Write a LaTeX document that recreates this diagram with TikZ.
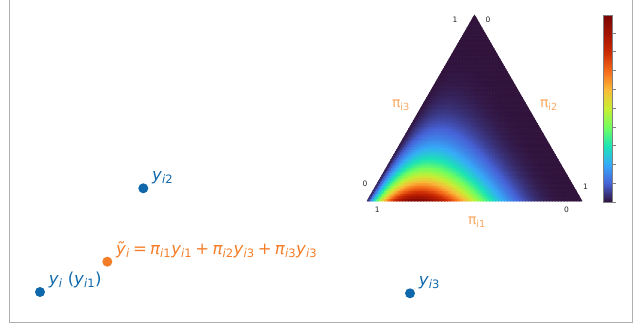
\documentclass[tikz,border=0pt]{standalone}
\usepackage{fontspec}
\setmainfont{DejaVu Sans}
\usetikzlibrary{positioning, calc}
\definecolor{ptblue}{RGB}{14,104,171}
\definecolor{ptorange}{RGB}{245,125,40}
\definecolor{axorange}{RGB}{250,168,98}
\definecolor{framegray}{RGB}{175,175,175}
% turbo colour map, 11 stops
\definecolor{tb0}{RGB}{48,18,59}
\definecolor{tb1}{RGB}{70,98,216}
\definecolor{tb2}{RGB}{54,170,249}
\definecolor{tb3}{RGB}{26,228,182}
\definecolor{tb4}{RGB}{114,254,94}
\definecolor{tb5}{RGB}{200,239,52}
\definecolor{tb6}{RGB}{250,186,57}
\definecolor{tb7}{RGB}{246,107,25}
\definecolor{tb8}{RGB}{203,42,4}
\definecolor{tb9}{RGB}{163,19,1}
\definecolor{tb10}{RGB}{122,4,3}
\pgfdeclareverticalshading{turbo}{100bp}{color(0bp)=(tb0); color(25bp)=(tb0);
  color(30bp)=(tb1); color(35bp)=(tb2); color(40bp)=(tb3); color(45bp)=(tb4);
  color(50bp)=(tb5); color(55bp)=(tb6); color(60bp)=(tb7); color(65bp)=(tb8);
  color(70bp)=(tb9); color(75bp)=(tb10); color(100bp)=(tb10)}
\newcommand{\setturbo}[1]{%
  \pgfmathsetmacro\tbpos{10*min(max(#1,0),0.9999)}%
  \pgfmathtruncatemacro\tblo{floor(\tbpos)}%
  \pgfmathtruncatemacro\tbhi{\tblo+1}%
  \pgfmathtruncatemacro\tbmix{round(100*(\tbhi-\tbpos))}%
  \colorlet{tcur}{tb\tblo!\tbmix!tb\tbhi}}
% #1 = pi_i2, #2 = pi_i3
\newcommand{\density}[2]{%
  \pgfmathsetmacro\ptwo{#1}%
  \pgfmathsetmacro\pone{1-\ptwo-(#2)}%
  \pgfmathsetmacro\dval{exp(max(-9,3.6*ln(\pone/0.766)+1.1*ln(\ptwo/0.234)))}%
  \setturbo{\dval}}
\newcommand{\N}{72}
\newcommand{\Nm}{71}
\newcommand{\opsp}{\hspace{3.2pt}}

\begin{document}
\begin{tikzpicture}[
    x=1pt, y=-1pt,
    dot/.style={circle, inner sep=0pt, minimum size=10pt},
    lbl/.style={inner sep=0pt, font=\fontsize{16.5}{19}\selectfont},
    axlbl/.style={text=axorange, inner sep=0pt, font=\fontsize{14}{16}\selectfont},
    num/.style={text=black!85, inner sep=0pt, font=\fontsize{7.5}{9}\selectfont},
    cell/.style={fill=tcur, draw=tcur, line width=0.5pt}
  ]
  \useasboundingbox (0,0) rectangle (639,330);
  % frame
  \draw[framegray, line width=1pt] (9.5,0) -- (9.5,322) -- (632,322) -- (632,0);

  % points
  \node[dot, fill=ptblue] (yone) at (40,292) {};
  \node[dot, fill=ptblue] (ytwo) at (143.3,188.3) {};
  \node[dot, fill=ptblue] (ythree) at (410,293.3) {};
  \node[dot, fill=ptorange] (ytil) at (107.3,261.7) {};
  \node[lbl, text=ptblue, above right=0pt and 5pt of yone] (yonelab)
    {\textit{y}\textsubscript{\textit{i}} (\textit{y}\textsubscript{\textit{i}1})};
  \node[lbl, text=ptblue, above right=0pt and 5pt of ytwo] (ytwolab)
    {\textit{y}\textsubscript{\textit{i}2}};
  \node[lbl, text=ptblue, above right=0pt and 5pt of ythree] (ythreelab)
    {\textit{y}\textsubscript{\textit{i}3}};
  \node[lbl, text=ptorange, above right=0pt and 5pt of ytil] (ytillab)
    {\textit{ỹ}\textsubscript{\textit{i}}\opsp=\opsp\textit{π}\textsubscript{\textit{i}1}\textit{y}\textsubscript{\textit{i}1}\opsp+\opsp\textit{π}\textsubscript{\textit{i}2}\textit{y}\textsubscript{\textit{i}3}\opsp+\opsp\textit{π}\textsubscript{\textit{i}3}\textit{y}\textsubscript{\textit{i}3}};

  % ternary density
  \begin{scope}[shift={(367,201)}, x={(215pt/\N,0pt)}, y={(107.5pt/\N,186pt/\N)}]
    \foreach \rowb in {0,...,\Nm} {
      \pgfmathtruncatemacro\amax{\Nm-\rowb}
      \foreach \cola in {0,...,\amax} {
        \density{(\cola+1/3)/\N}{(\rowb+1/3)/\N}
        \path[cell] (\cola,\rowb) -- ++(1,0) -- ++(-1,1) -- cycle;
        \ifnum\cola<\amax
          \density{(\cola+2/3)/\N}{(\rowb+2/3)/\N}
          \path[cell] (\cola+1,\rowb) -- ++(0,1) -- ++(-1,0) -- cycle;
        \fi
      }
    }
  \end{scope}
  \coordinate (vone) at (367,201);
  \coordinate (vtwo) at (582,201);
  \coordinate (vthree) at (474.3,15);

  % corner values
  \node[num] (topone) at (455,20) {1};
  \node[num] (topzero) at (488,20) {0};
  \node[num] (leftzero) at (365,184) {0};
  \node[num] (leftone) at (377.3,209.5) {1};
  \node[num] (rightone) at (585.5,186.5) {1};
  \node[num] (rightzero) at (566.5,209.5) {0};
  \node[axlbl] (pithree) at (401,105) {π\textsubscript{i3}};
  \node[axlbl] (pitwo) at (549,105) {π\textsubscript{i2}};
  \node[axlbl] (pione) at (477,222) {π\textsubscript{i1}};

  % colour bar
  \shade[shading=turbo] (603,202) rectangle (612.3,15);
  \draw[gray, line width=0.5pt] (603,202) rectangle (612.3,15);
  \foreach \k in {0,...,9}
    \draw[gray, line width=0.5pt] (612.3,202-18.8*\k) -- ++(4,0);
\end{tikzpicture}
\end{document}
